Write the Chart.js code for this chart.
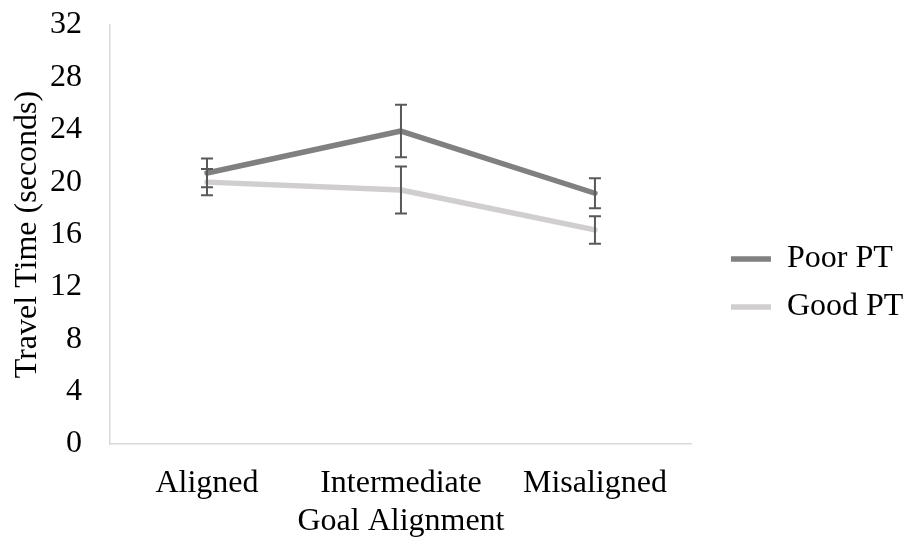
<!DOCTYPE html>
<html>
<head>
<meta charset="utf-8">
<script src="https://cdn.jsdelivr.net/npm/chart.js@4/dist/chart.umd.min.js"></script>
<style>
  html, body { margin: 0; padding: 0; background: #ffffff; }
  #wrap { width: 909px; height: 545px; position: relative; }
</style>
</head>
<body>
<div id="wrap"><canvas id="c"></canvas></div>
<script>
const categories = ['Aligned', 'Intermediate', 'Misaligned'];
const seriesNames = ['Poor PT', 'Good PT'];
const poorPT = [20.7, 23.9, 19.15];
const poorPTErr = [1.1, 2.0, 1.15];
const goodPT = [20.0, 19.4, 16.35];
const goodPTErr = [1.0, 1.8, 1.05];
const yTicks = [0, 4, 8, 12, 16, 20, 24, 28, 32];

const FONT = 'Liberation Serif, Times New Roman, serif';

const errorBarPlugin = {
  id: 'errorBars',
  afterDatasetsDraw(chart) {
    const ctx = chart.ctx;
    const yScale = chart.scales.y;
    ctx.save();
    ctx.strokeStyle = '#595959';
    ctx.lineWidth = 2;
    chart.data.datasets.forEach((ds, di) => {
      const meta = chart.getDatasetMeta(di);
      ds.errors.forEach((e, i) => {
        const pt = meta.data[i];
        const v = ds.data[i];
        const yTop = yScale.getPixelForValue(v + e);
        const yBot = yScale.getPixelForValue(v - e);
        const x = pt.x;
        const cap = 6;
        ctx.beginPath();
        ctx.moveTo(x, yTop); ctx.lineTo(x, yBot);
        ctx.moveTo(x - cap, yTop); ctx.lineTo(x + cap, yTop);
        ctx.moveTo(x - cap, yBot); ctx.lineTo(x + cap, yBot);
        ctx.stroke();
      });
    });
    ctx.restore();
  }
};

new Chart(document.getElementById('c'), {
  type: 'line',
  data: {
    labels: categories,
    datasets: [
      {
        label: seriesNames[0],
        data: poorPT,
        errors: poorPTErr,
        borderColor: '#808080',
        backgroundColor: '#808080',
        borderWidth: 5.5,
        borderCapStyle: 'round',
        borderJoinStyle: 'round',
        pointRadius: 0,
        tension: 0,
        fill: false
      },
      {
        label: seriesNames[1],
        data: goodPT,
        errors: goodPTErr,
        borderColor: '#d0cece',
        backgroundColor: '#d0cece',
        borderWidth: 5.5,
        borderCapStyle: 'round',
        borderJoinStyle: 'round',
        pointRadius: 0,
        tension: 0,
        fill: false
      }
    ]
  },
  options: {
    responsive: true,
    maintainAspectRatio: false,
    animation: false,
    layout: { padding: { left: 0, right: -4.4, top: 25, bottom: 4 } },
    plugins: {
      tooltip: { enabled: false },
      legend: {
        position: 'right',
        labels: {
          usePointStyle: true,
          pointStyle: 'line',
          pointStyleWidth: 40,
          padding: 16,
          color: '#000000',
          font: { family: FONT, size: 32 }
        }
      }
    },
    scales: {
      x: {
        type: 'category',
        offset: true,
        grid: { display: false, drawTicks: false },
        border: { display: true, color: '#d9d9d9', width: 1.5 },
        ticks: { color: '#000000', font: { family: FONT, size: 32 }, padding: 20, maxRotation: 0, autoSkip: false },
        title: { display: true, text: 'Goal Alignment', color: '#000000', font: { family: FONT, size: 32 }, padding: { top: 0, bottom: 0 } },
        afterFit(scale) { scale.height = 97; }
      },
      y: {
        min: 0,
        max: 32,
        afterBuildTicks(scale) { scale.ticks = yTicks.map(v => ({ value: v })); },
        afterFit(scale) { scale.width = 110; scale.paddingTop = 0; scale.paddingBottom = 0; },
        grid: { display: false, drawTicks: false },
        border: { display: true, color: '#d9d9d9', width: 1.5 },
        ticks: { color: '#000000', font: { family: FONT, size: 32 }, padding: 28 },
        title: { display: true, text: 'Travel Time (seconds)', color: '#000000', font: { family: FONT, size: 32 }, padding: { top: 8, bottom: 0 } }
      },
      gap: {
        type: 'linear',
        position: 'right',
        display: false,
        afterFit(scale) { scale.width = 23; }
      }
    }
  },
  plugins: [errorBarPlugin]
});
</script>
</body>
</html>
